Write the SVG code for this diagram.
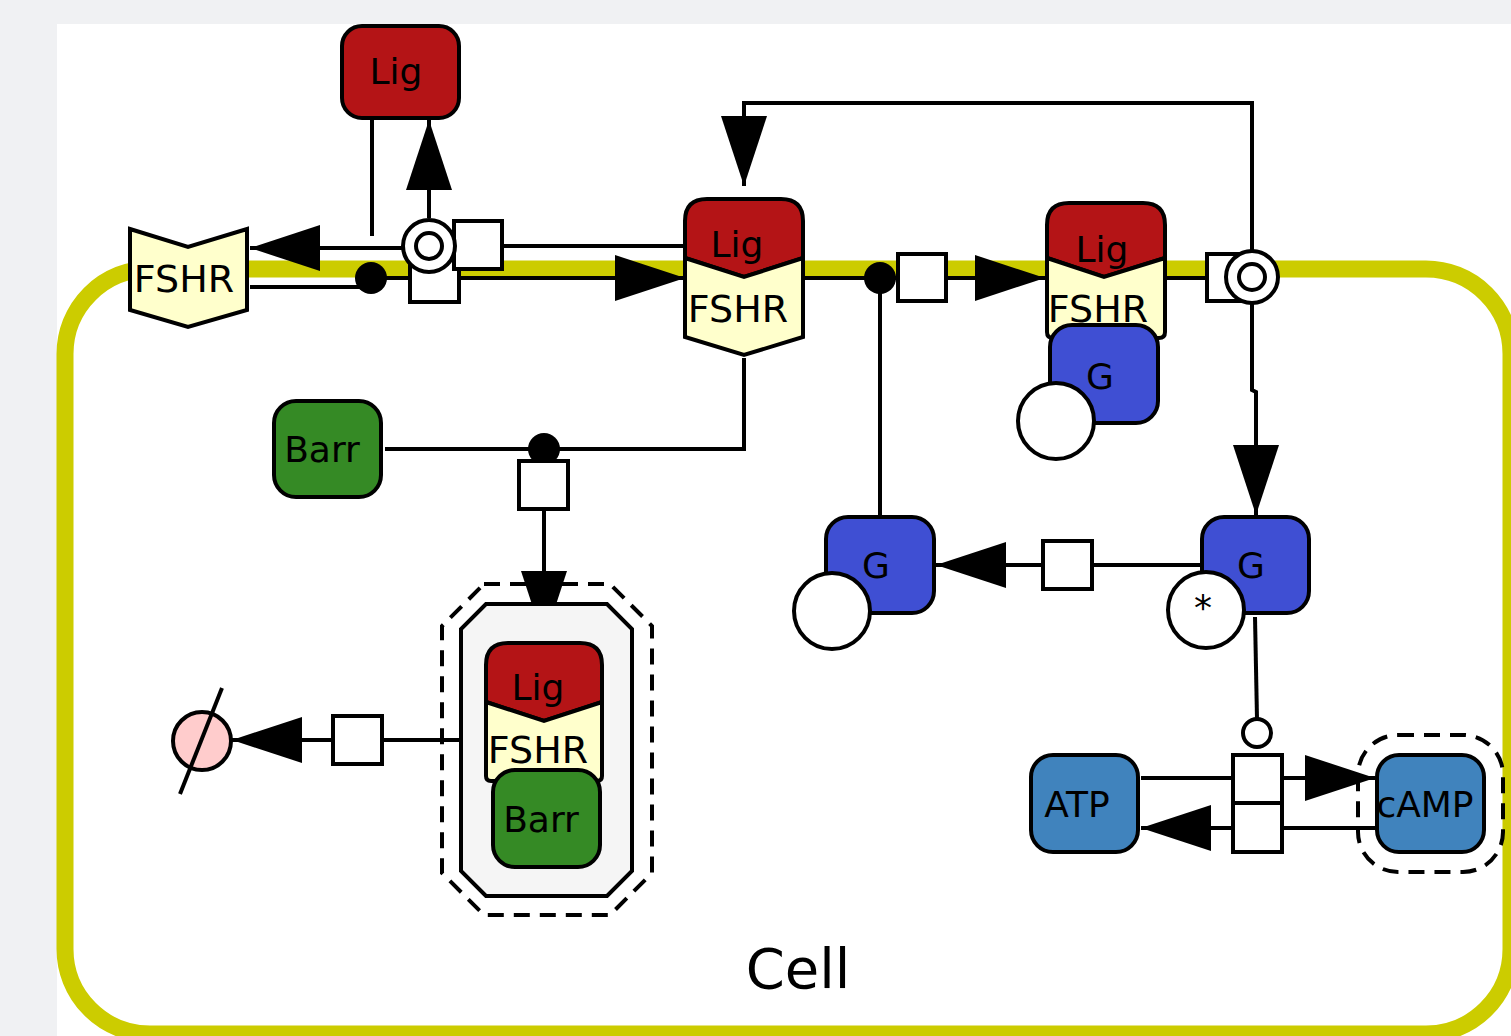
<svg xmlns="http://www.w3.org/2000/svg" width="1511" height="1036" viewBox="0 0 1511 1036">
<style>
.ln{fill:none;stroke:#000;stroke-width:4;stroke-linejoin:miter}
.nd{stroke:#000;stroke-width:4}
.lig{fill:#b41416}
.fshr{fill:#ffffcc}
.g{fill:#3f4fd3}
.barr{fill:#358a25}
.sm{fill:#4083bd}
.pr{fill:#fff;stroke:#000;stroke-width:4}
.dot{fill:#000}
.t{font-family:"DejaVu Sans","Liberation Sans",sans-serif;font-size:36px;fill:#000;text-anchor:middle}
.f{font-size:38px}
.dash{fill:none;stroke:#000;stroke-width:4;stroke-dasharray:16 10}
</style>
<defs>
<marker id="arr" markerUnits="userSpaceOnUse" markerWidth="72" markerHeight="48" refX="70" refY="23" orient="auto">
<path d="M0,0 L70,23 L0,46 Z" fill="#000"/>
</marker>
</defs>
<rect x="0" y="0" width="1511" height="1036" fill="#f0f1f3"/>
<rect x="57" y="24" width="1454" height="1012" fill="#fff"/>
<g id="cell">
<rect x="65" y="269" width="1446" height="765" rx="85" ry="85" fill="none" stroke="#cccc00" stroke-width="17"/>
<text class="t" x="798" y="988" style="font-size:56px">Cell</text>
</g>
<g id="connectors">
<line class="ln" x1="372" y1="120" x2="372" y2="236"/>
<line class="ln" x1="250" y1="287" x2="365" y2="287"/>
<line class="ln" x1="371" y1="278" x2="685" y2="278" marker-end="url(#arr)"/>
<line class="ln" x1="683" y1="246" x2="502" y2="246"/>
<line class="ln" x1="403" y1="248" x2="250" y2="248" marker-end="url(#arr)"/>
<line class="ln" x1="429" y1="218" x2="429" y2="120" marker-end="url(#arr)"/>
<line class="ln" x1="803" y1="278" x2="880" y2="278"/>
<line class="ln" x1="880" y1="515" x2="880" y2="278"/>
<line class="ln" x1="880" y1="278" x2="1045" y2="278" marker-end="url(#arr)"/>
<line class="ln" x1="1165" y1="278" x2="1206" y2="278"/>
<polyline class="ln" points="1252,250 1252,103 744,103 744,186" marker-end="url(#arr)"/>
<polyline class="ln" points="1252,304 1252,390 1256,392 1256,515" marker-end="url(#arr)"/>
<line class="ln" x1="1200" y1="565" x2="936" y2="565" marker-end="url(#arr)"/>
<polyline class="ln" points="385,449 744,449 744,358"/>
<line class="ln" x1="544" y1="449" x2="544" y2="641" marker-end="url(#arr)"/>
<line class="ln" x1="484" y1="740" x2="232" y2="740" marker-end="url(#arr)"/>
<line class="ln" x1="1141" y1="778" x2="1375" y2="778" marker-end="url(#arr)"/>
<line class="ln" x1="1375" y1="828" x2="1141" y2="828" marker-end="url(#arr)"/>
<line class="ln" x1="1255" y1="617" x2="1257" y2="719"/>
</g>
<g id="lig_top">
<rect class="nd lig" x="342" y="26" width="117" height="92" rx="20"/>
<text class="t" x="396" y="84">Lig</text>
</g>
<g id="fshr_left">
<polygon class="nd fshr" points="130,229 188,247 247,229 247,310 188,327 130,310"/>
<text class="t f" x="184" y="292">FSHR</text>
</g>
<g id="lig_fshr">
<path class="nd lig" d="M685,258 L685,221 Q685,199 707,199 L781,199 Q803,199 803,221 L803,258 L744,277 Z"/>
<path class="nd fshr" d="M685,258 L744,277 L803,258 L803,337 L744,355 L685,337 Z"/>
<text class="t" x="737" y="257">Lig</text>
<text class="t f" x="738" y="322">FSHR</text>
</g>
<g id="lig_fshr_g">
<path class="nd lig" d="M1047,258 L1047,225 Q1047,203 1069,203 L1143,203 Q1165,203 1165,225 L1165,258 L1104,277 Z"/>
<path class="nd fshr" d="M1047,258 L1104,277 L1165,258 L1165,332 Q1165,338 1159,338 L1053,338 Q1047,338 1047,332 Z"/>
<text class="t" x="1102" y="262">Lig</text>
<text class="t f" x="1098" y="322">FSHR</text>
<rect class="nd g" x="1050" y="325" width="108" height="98" rx="22"/>
<circle class="nd" cx="1056" cy="421" r="38" fill="#fff"/>
<text class="t" x="1100" y="389">G</text>
</g>
<g id="barr">
<rect class="nd barr" x="274" y="401" width="107" height="96" rx="22"/>
<text class="t" x="322" y="462">Barr</text>
</g>
<g id="g_inactive">
<rect class="nd g" x="826" y="517" width="108" height="96" rx="22"/>
<circle class="nd" cx="832" cy="611" r="38" fill="#fff"/>
<text class="t" x="876" y="578">G</text>
</g>
<g id="g_active">
<rect class="nd g" x="1202" y="517" width="107" height="96" rx="22"/>
<circle class="nd" cx="1206" cy="610" r="38" fill="#fff"/>
<text class="t" x="1251" y="578">G</text>
<text class="t" x="1203" y="620">*</text>
</g>
<g id="complex_internal">
<path class="dash" d="M484,584 L610,584 L652,626 L652,873 L610,915 L484,915 L442,873 L442,626 Z"/>
<path d="M486,604 L607,604 L632,629 L632,871 L607,896 L486,896 L461,871 L461,629 Z" fill="#f5f5f5" stroke="#000" stroke-width="4"/>
<path class="nd lig" d="M486,702 L486,665 Q486,643 508,643 L580,643 Q602,643 602,665 L602,702 L544,721 Z"/>
<path class="nd fshr" d="M486,702 L544,721 L602,702 L602,776 Q602,781 597,781 L491,781 Q486,781 486,776 Z"/>
<text class="t" x="538" y="700">Lig</text>
<text class="t f" x="538" y="763">FSHR</text>
<rect class="nd barr" x="493" y="770" width="107" height="97" rx="22"/>
<text class="t" x="541" y="832">Barr</text>
</g>
<g id="atp">
<rect class="nd sm" x="1031" y="755" width="107" height="97" rx="22"/>
<text class="t" x="1077" y="817">ATP</text>
</g>
<g id="camp">
<rect class="dash" x="1358" y="735" width="145" height="137" rx="40"/>
<rect class="nd sm" x="1377" y="755" width="107" height="97" rx="22"/>
<text class="t" x="1425" y="817">cAMP</text>
</g>
<g id="sink">
<circle class="nd" cx="202" cy="741" r="29" fill="#ffcccc"/>
<line class="ln" x1="180" y1="794" x2="222" y2="688"/>
</g>
<g id="processes">
<circle class="dot" cx="371" cy="278" r="16"/>
<rect class="pr" x="410" y="255" width="49" height="47"/>
<rect class="pr" x="454" y="221" width="48" height="48"/>
<circle class="pr" cx="429" cy="246" r="26"/>
<circle class="pr" cx="429" cy="246" r="13"/>
<circle class="dot" cx="880" cy="278" r="16"/>
<rect class="pr" x="898" y="254" width="48" height="47"/>
<rect class="pr" x="1207" y="254" width="46" height="47"/>
<circle class="pr" cx="1252" cy="277" r="26"/>
<circle class="pr" cx="1252" cy="277" r="13"/>
<rect class="pr" x="1043" y="541" width="49" height="48"/>
<circle class="dot" cx="544" cy="449" r="16"/>
<rect class="pr" x="519" y="461" width="49" height="48"/>
<rect class="pr" x="333" y="716" width="49" height="48"/>
<rect class="pr" x="1233" y="755" width="49" height="48"/>
<rect class="pr" x="1233" y="803" width="49" height="49"/>
<circle class="pr" cx="1257" cy="733" r="14"/>
</g>
</svg>
